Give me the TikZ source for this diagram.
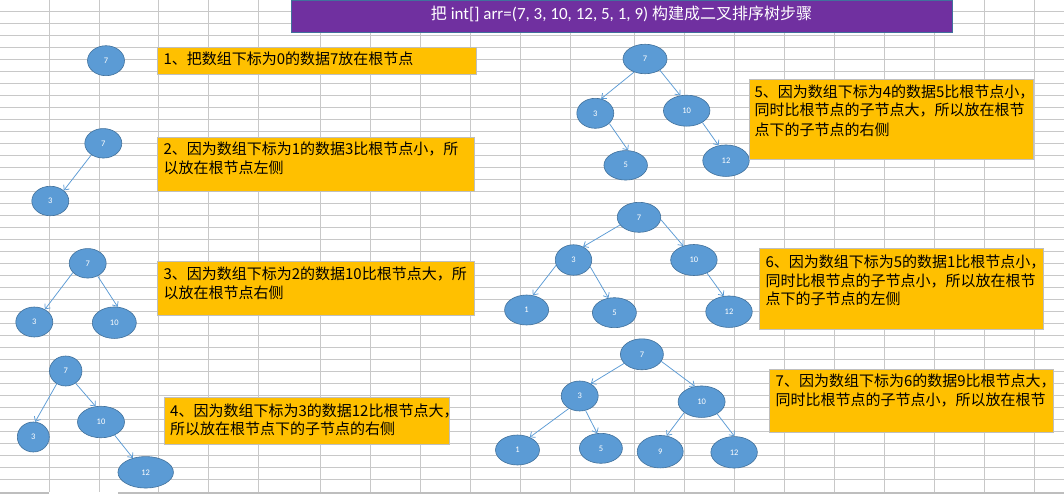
\documentclass[tikz,border=0pt]{standalone}
\usepackage{fontspec}
\setmainfont{Carlito}
\newfontfamily\cjk{Noto Sans CJK SC}
\usetikzlibrary{arrows.meta,shapes.geometric}
\definecolor{gridc}{HTML}{C8C8C8}
\definecolor{gridd}{HTML}{BEBEBE}
\definecolor{nodef}{HTML}{5B9BD5}
\definecolor{nodeb}{HTML}{41719C}
\definecolor{boxf}{HTML}{FFC000}
\definecolor{boxb}{HTML}{BFBFBF}
\definecolor{titlef}{HTML}{7030A0}
\begin{document}
\begin{tikzpicture}[x=1pt,y=-1pt,
  tn/.style={ellipse, fill=nodef, draw=nodeb, line width=0.6pt, text=white,
    font=\fontsize{8.5}{9}\selectfont, inner sep=0pt},
  edge/.style={draw=nodef, line width=0.75pt, -{Straight Barb[length=4pt,width=7pt]}},
  ybox/.style={rectangle, fill=boxf, draw=boxb, line width=0.8pt, anchor=north west, inner sep=0pt},
  btxt/.style={anchor=base west, inner sep=0pt, font=\cjk\fontsize{15}{19}\selectfont},
  gline/.style={draw=gridc, line width=1pt}
]
\fill[white] (0,0) rectangle (1064,495);
\useasboundingbox (0,0) rectangle (1064,495);
% spreadsheet grid
\foreach \k in {0,...,39} \draw[gline] (0,{11.5+12*\k}) -- (1064,{11.5+12*\k});
\foreach \x in {49.3,99.3,158.3,208.3,258.3,320.7,370.7,420.7,470.7,520.7,570.7,634.5,684.5,734.5,784.5,834.5,884.5,934.5,984.5,1034.5}
  \draw[gline] (\x,0) -- (\x,492);
\draw[gridd, line width=2.3pt] (0,492.8) -- (49.3,492.8);
\draw[gridd, line width=2.3pt] (118,492.8) -- (1064,492.8);

% title
\node[rectangle, fill=titlef, draw=nodeb, line width=0.8pt, anchor=north west, inner sep=0pt,
  minimum width=661pt, minimum height=32.3pt] (titlebar) at (291,0) {};
\node[anchor=base, inner sep=0pt, text=white, font=\fontsize{17}{20}\selectfont] (titletext) at (621.5,19.3)
  {{\cjk\fontsize{16}{20}\selectfont 把} int[] arr=(7, 3, 10, 12, 5, 1, 9) {\cjk\fontsize{16}{20}\selectfont 构建成二叉排序树步骤}};

% ---------- tree 1
\node[tn, minimum width=37pt, minimum height=30pt] (a7) at (106,60.7) {7};

% ---------- tree 2
\node[tn, minimum width=37pt, minimum height=29.5pt] (b7) at (103.3,143.3) {7};
\node[tn, minimum width=37pt, minimum height=29.5pt] (b3) at (50.3,201) {3};
\draw[edge] (b7.224) -- (b3.38);

% ---------- tree 3
\node[tn, minimum width=37pt, minimum height=29.5pt] (c7) at (87.7,263.3) {7};
\node[tn, minimum width=37pt, minimum height=30pt] (c3) at (34.3,322) {3};
\node[tn, minimum width=44pt, minimum height=31.5pt] (c10) at (114.3,322.7) {10};
\draw[edge] (c7.212) -- (c3.50);
\draw[edge] (c7.308) -- (c10.78);

% ---------- tree 4
\node[tn, minimum width=32.5pt, minimum height=30pt] (d7) at (65.7,371) {7};
\node[tn, minimum width=32pt, minimum height=30pt] (d3) at (33.3,437) {3};
\node[tn, minimum width=47pt, minimum height=31.5pt] (d10) at (101,422) {10};
\node[tn, minimum width=55.5pt, minimum height=31.5pt] (d12) at (145.7,472.3) {12};
\draw[edge] (d7.235) -- (d3.83);
\draw[edge] (d7.309) -- (d10.109);
\draw[edge] (d10.316) -- (d12.132);

% ---------- tree 5
\node[tn, minimum width=44pt, minimum height=29.5pt] (e7) at (645,59) {7};
\node[tn, minimum width=37pt, minimum height=30pt] (e3) at (595.3,113.3) {3};
\node[tn, minimum width=46.5pt, minimum height=31pt] (e10) at (686.7,110.7) {10};
\node[tn, minimum width=43.5pt, minimum height=29.5pt] (e5) at (625.7,165.3) {5};
\node[tn, minimum width=46.5pt, minimum height=31.5pt] (e12) at (726,160.7) {12};
\draw[edge] (e7.230) -- (e3.68);
\draw[edge] (e7.323) -- (e10.113);
\draw[edge] (e3.324) -- (e5.81);
\draw[edge] (e10.323) -- (e12.116);

% ---------- tree 6
\node[tn, minimum width=43.5pt, minimum height=30pt] (f7) at (639,217.3) {7};
\node[tn, minimum width=36.5pt, minimum height=30.5pt] (f3) at (573.5,260) {3};
\node[tn, minimum width=46.5pt, minimum height=31pt] (f10) at (693.9,260) {10};
\node[tn, minimum width=44pt, minimum height=30pt] (f1) at (526.6,310) {1};
\node[tn, minimum width=44pt, minimum height=30pt] (f5) at (614.4,312.7) {5};
\node[tn, minimum width=46.5pt, minimum height=31.5pt] (f12) at (729,311.7) {12};
\draw[edge] (f7.202) -- (f3.54);
\draw[edge] (f7.354) -- (f10.127);
\draw[edge] (f3.197) -- (f1.67);
\draw[edge] (f3.338) -- (f5.112);
\draw[edge] (f10.315) -- (f12.109);

% ---------- tree 7
\node[tn, minimum width=43pt, minimum height=31pt] (g7) at (641.9,354.3) {7};
\node[tn, minimum width=37pt, minimum height=30pt] (g3) at (579.7,396) {3};
\node[tn, minimum width=47pt, minimum height=31.5pt] (g10) at (701.6,401.7) {10};
\node[tn, minimum width=44pt, minimum height=30pt] (g1) at (517.5,450) {1};
\node[tn, minimum width=43pt, minimum height=30pt] (g5) at (600.9,448.3) {5};
\node[tn, minimum width=46pt, minimum height=32.5pt] (g9) at (660.2,451.7) {9};
\node[tn, minimum width=46.5pt, minimum height=31.5pt] (g12) at (734.1,452.3) {12};
\draw[edge] (g7.207) -- (g3.48);
\draw[edge] (g7.340) -- (g10.114);
\draw[edge] (g3.229) -- (g1.46);
\draw[edge] (g3.292) -- (g5.104);
\draw[edge] (g10.212) -- (g9.68);
\draw[edge] (g10.322) -- (g12.89);

% ---------- text boxes
\node[ybox, minimum width=318.4pt, minimum height=27pt] (box1) at (157.3,47.3) {};
\node[btxt] (t1a) at (163.3,64.7) {1、把数组下标为0的数据7放在根节点};

\node[ybox, minimum width=317.6pt, minimum height=54.3pt] (box2) at (156.7,136.7) {};
\node[btxt] (t2a) at (163.3,154) {2、因为数组下标为1的数据3比根节点小，所};
\node[btxt] (t2b) at (163.3,173.4) {以放在根节点左侧};

\node[ybox, minimum width=317.3pt, minimum height=54.3pt] (box3) at (156.7,260.7) {};
\node[btxt] (t3a) at (163.3,279) {3、因为数组下标为2的数据10比根节点大，所};
\node[btxt] (t3b) at (163.3,298) {以放在根节点右侧};

\node[ybox, minimum width=285pt, minimum height=46.7pt] (box4) at (164.3,397.3) {};
\node[btxt] (t4a) at (170,416.4) {4、因为数组下标为3的数据12比根节点大，};
\node[btxt] (t4b) at (170,434) {所以放在根节点下的子节点的右侧};

\node[ybox, minimum width=284.2pt, minimum height=79.7pt] (box5) at (749.2,79.3) {};
\node[btxt] (t5a) at (754.3,97.4) {5、因为数组下标为4的数据5比根节点小，};
\node[btxt] (t5b) at (754.3,115.7) {同时比根节点的子节点大，所以放在根节};
\node[btxt] (t5c) at (754.3,135) {点下的子节点的右侧};

\node[ybox, minimum width=284.4pt, minimum height=80.7pt] (box6) at (759,248.3) {};
\node[btxt] (t6a) at (765.3,267.4) {6、因为数组下标为5的数据1比根节点小，};
\node[btxt] (t6b) at (765.3,286.4) {同时比根节点的子节点小，所以放在根节};
\node[btxt] (t6c) at (765.3,304.7) {点下的子节点的左侧};

\node[ybox, minimum width=283.7pt, minimum height=63.3pt] (box7) at (769.3,369) {};
\node[btxt] (t7a) at (775.5,386.4) {7、因为数组下标为6的数据9比根节点大，};
\node[btxt] (t7b) at (775.5,405) {同时比根节点的子节点小，所以放在根节};
\end{tikzpicture}
\end{document}
